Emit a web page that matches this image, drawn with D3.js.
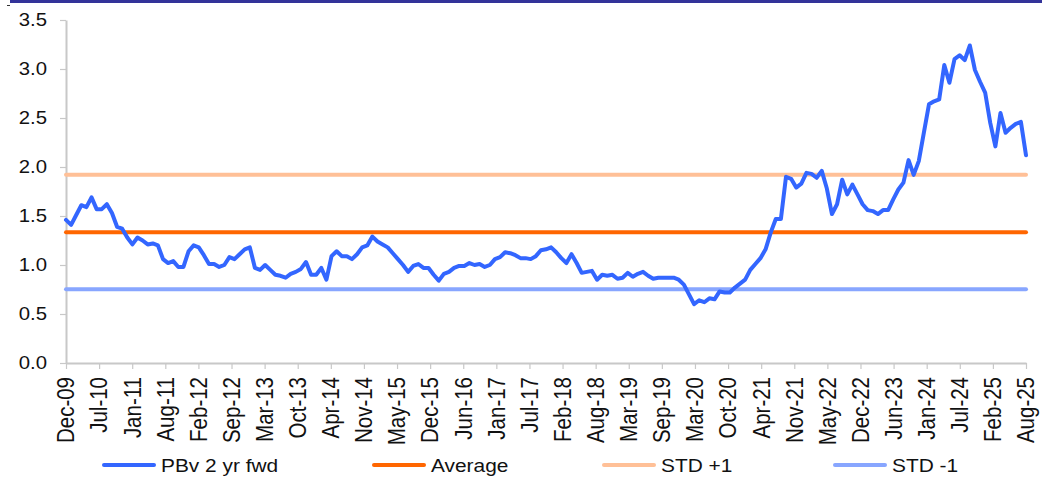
<!DOCTYPE html>
<html>
<head>
<meta charset="utf-8">
<script src="https://cdn.jsdelivr.net/npm/d3@7"></script>
<style>
  html, body { margin: 0; padding: 0; background: #fff; }
  svg { display: block; font-family: "Liberation Sans", Arial, sans-serif; }
</style>
</head>
<body>
<div id="chart"></div>
<script>
// tick labels on the category axis (evenly spaced)
var tickLabels = ['Dec-09', 'Jul-10', 'Jan-11', 'Aug-11', 'Feb-12', 'Sep-12', 'Mar-13', 'Oct-13',
  'Apr-14', 'Nov-14', 'May-15', 'Dec-15', 'Jun-16', 'Jan-17', 'Jul-17', 'Feb-18', 'Aug-18',
  'Mar-19', 'Sep-19', 'Mar-20', 'Oct-20', 'Apr-21', 'Nov-21', 'May-22', 'Dec-22', 'Jun-23',
  'Jan-24', 'Jul-24', 'Feb-25', 'Aug-25'];

// PBv 2 yr fwd, monthly Dec-09 .. Aug-25
var pbv = [
  1.46, 1.41, 1.51, 1.61, 1.59, 1.69, 1.57, 1.57, 1.62, 1.53,
  1.39, 1.37, 1.28, 1.21, 1.28, 1.25, 1.21, 1.22, 1.20, 1.06,
  1.02, 1.04, 0.98, 0.98, 1.14, 1.20, 1.18, 1.10, 1.01, 1.01,
  0.98, 1.00, 1.08, 1.06, 1.11, 1.16, 1.18, 0.97, 0.95, 1.00,
  0.95, 0.90, 0.89, 0.87, 0.91, 0.93, 0.96, 1.03, 0.90, 0.90,
  0.97, 0.85, 1.09, 1.14, 1.09, 1.09, 1.06, 1.11, 1.18, 1.20,
  1.29, 1.24, 1.21, 1.18, 1.12, 1.06, 1.00, 0.93, 0.99, 1.01,
  0.97, 0.97, 0.90, 0.84, 0.91, 0.93, 0.97, 0.99, 0.99, 1.02,
  1.00, 1.01, 0.98, 1.00, 1.06, 1.08, 1.13, 1.12, 1.10, 1.07,
  1.07, 1.06, 1.09, 1.15, 1.16, 1.18, 1.13, 1.07, 1.02, 1.11,
  1.02, 0.92, 0.93, 0.94, 0.85, 0.90, 0.89, 0.90, 0.86, 0.87,
  0.92, 0.88, 0.91, 0.93, 0.89, 0.86, 0.87, 0.87, 0.87, 0.87,
  0.85, 0.80, 0.70, 0.60, 0.64, 0.62, 0.66, 0.65, 0.73, 0.72,
  0.72, 0.77, 0.81, 0.85, 0.95, 1.01, 1.07, 1.16, 1.33, 1.47,
  1.47, 1.90, 1.88, 1.79, 1.83, 1.94, 1.93, 1.89, 1.96, 1.78,
  1.52, 1.62, 1.87, 1.72, 1.82, 1.72, 1.62, 1.56, 1.55, 1.52,
  1.56, 1.56, 1.67, 1.77, 1.84, 2.07, 1.92, 2.06, 2.35, 2.64,
  2.67, 2.69, 3.04, 2.86, 3.10, 3.14, 3.09, 3.24, 2.99, 2.87,
  2.76, 2.45, 2.21, 2.55, 2.35, 2.40, 2.44, 2.46, 2.12
];

// horizontal reference levels
var levelNames = ['Average', 'STD +1', 'STD -1'];
var levelValues = [1.333, 1.92, 0.752];

var yTicks = [0, 0.5, 1.0, 1.5, 2.0, 2.5, 3.0, 3.5];

var legendNames = ['PBv 2 yr fwd', 'Average', 'STD +1', 'STD -1'];
var colors = {
  'PBv 2 yr fwd': '#3366ff',
  'Average': '#ff6600',
  'STD +1': '#ffc097',
  'STD -1': '#88a6ff'
};

var W = 1045, H = 480;
var plotL = 66, plotR = 1026, plotT = 20, plotB = 363;
var SX = 1.13; // text looks horizontally stretched

var svg = d3.select('#chart').append('svg')
  .attr('width', W).attr('height', H);

// top rule
svg.append('rect').attr('x', 10).attr('y', 0).attr('width', 1032).attr('height', 3)
  .attr('fill', '#333399');
svg.append('rect').attr('x', 7).attr('y', 5).attr('width', 3).attr('height', 1)
  .attr('fill', '#333');

var x = d3.scaleLinear().domain([0, pbv.length - 1]).range([plotL, plotR]);
var xLab = d3.scaleLinear().domain([0, tickLabels.length - 1]).range([plotL, plotR]);
var y = d3.scaleLinear().domain([0, 3.5]).range([plotB, plotT]);

// y axis
var yAxis = svg.append('g').attr('transform', 'translate(' + plotL + ',0)')
  .call(d3.axisLeft(y).tickValues(yTicks).tickSize(6).tickSizeOuter(0).tickFormat(''));
yAxis.select('.domain').attr('stroke', '#c8c8c8').attr('stroke-width', 2);
yAxis.selectAll('.tick line').attr('stroke', '#c8c8c8').attr('stroke-width', 1.2);

svg.append('g').selectAll('text')
  .data(yTicks)
  .join('text')
  .attr('transform', function (d) { return 'translate(47,' + y(d) + ') scale(' + SX + ',1)'; })
  .attr('dy', '0.36em')
  .attr('text-anchor', 'end')
  .attr('font-size', '18px')
  .attr('fill', '#111')
  .text(function (d) { return d3.format('.1f')(d); });

// x axis
var xAxis = svg.append('g').attr('transform', 'translate(0,' + plotB + ')')
  .call(d3.axisBottom(xLab).tickValues(d3.range(tickLabels.length))
    .tickSize(6).tickSizeOuter(0).tickFormat(''));
xAxis.select('.domain').attr('stroke', '#c8c8c8').attr('stroke-width', 2);
xAxis.selectAll('.tick line').attr('stroke', '#c8c8c8').attr('stroke-width', 1.2);

svg.append('g').selectAll('text')
  .data(tickLabels)
  .join('text')
  .attr('transform', function (d, i) {
    return 'translate(' + xLab(i) + ',377) scale(' + SX + ',1) rotate(-90)';
  })
  .attr('dy', '0.36em')
  .attr('text-anchor', 'end')
  .attr('font-size', '20.5px')
  .attr('fill', '#111')
  .text(function (d) { return d; });

// reference levels
svg.append('g').selectAll('line')
  .data(levelValues)
  .join('line')
  .attr('x1', plotL).attr('x2', plotR)
  .attr('y1', function (d) { return y(d); })
  .attr('y2', function (d) { return y(d); })
  .attr('stroke', function (d, i) { return colors[levelNames[i]]; })
  .attr('stroke-width', 4)
  .attr('stroke-linecap', 'round');

// main series
var line = d3.line()
  .x(function (d, i) { return x(i); })
  .y(function (d) { return y(d); });

svg.append('path')
  .datum(pbv)
  .attr('fill', 'none')
  .attr('stroke', colors['PBv 2 yr fwd'])
  .attr('stroke-width', 4)
  .attr('stroke-linejoin', 'round')
  .attr('stroke-linecap', 'round')
  .attr('d', line);

// legend
var legendX = [102, 372, 602, 833];
var leg = svg.append('g').selectAll('g')
  .data(legendNames)
  .join('g')
  .attr('transform', function (d, i) { return 'translate(' + legendX[i] + ',465)'; });

leg.append('line')
  .attr('x1', 2).attr('x2', 52).attr('y1', 0).attr('y2', 0)
  .attr('stroke', function (d) { return colors[d]; })
  .attr('stroke-width', 4)
  .attr('stroke-linecap', 'round');

leg.append('text')
  .attr('transform', 'translate(59,6.8) scale(' + SX + ',1)')
  .attr('font-size', '18.5px')
  .attr('fill', '#111')
  .text(function (d) { return d; });
</script>
</body>
</html>
